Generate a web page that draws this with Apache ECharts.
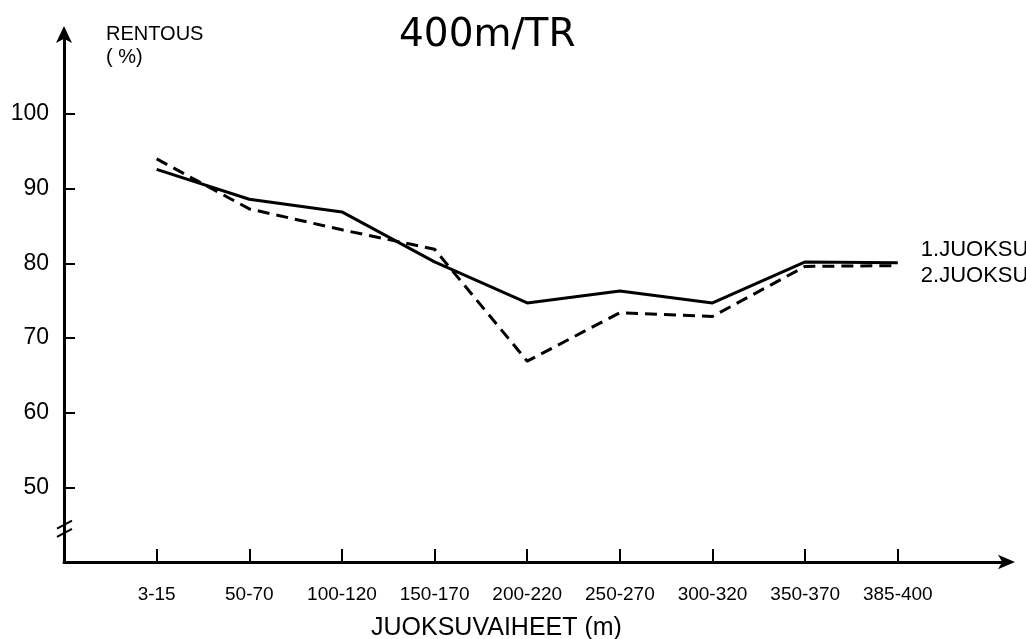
<!DOCTYPE html>
<html>
<head>
<meta charset="utf-8">
<script src="https://cdn.jsdelivr.net/npm/echarts@6/dist/echarts.min.js"></script>
<style>
  html, body { margin: 0; padding: 0; background: #fff; }
  #chart { width: 1026px; height: 639px; }
</style>
</head>
<body>
<div id="chart"></div>
<script>
// running phases (m)
const phases = ['3-15', '50-70', '100-120', '150-170', '200-220', '250-270', '300-320', '350-370', '385-400']
// relaxation %
const run1 = [92.6, 88.6, 86.9, 80.2, 74.7, 76.3, 74.7, 80.2, 80.1]
const run2 = [94.0, 87.3, 84.5, 81.9, 66.9, 73.4, 72.9, 79.6, 79.7]
const yTicks = [50, 60, 70, 80, 90, 100]
const seriesNames = ['1.JUOKSU', '2.JUOKSU']

const chart = echarts.init(document.getElementById('chart'), null, { renderer: 'canvas' })

const toPoints = arr => arr.map((v, i) => [i, v])

chart.setOption({
  animation: false,
  backgroundColor: '#fff',
  title: [
    {
      text: '400m/TR',
      left: 394, top: 11,
      textStyle: { fontFamily: 'DejaVu Sans', fontSize: 39, fontWeight: 'normal', color: '#000' },
    },
    {
      text: 'RENTOUS\n( %)',
      left: 101, top: 18,
      textStyle: { fontFamily: 'Liberation Sans', fontSize: 20, fontWeight: 'normal', color: '#000', lineHeight: 23 },
    },
    {
      text: 'JUOKSUVAIHEET (m)',
      left: 366, top: 611,
      textStyle: { fontFamily: 'Liberation Sans', fontSize: 25, fontWeight: 'normal', color: '#000' },
    },
  ],
  grid: { left: 64, right: 17, top: 32, bottom: 77 },
  xAxis: {
    type: 'value',
    min: -1,
    max: 9.2,
    splitLine: { show: false },
    axisLine: {
      onZero: false,
      lineStyle: { color: '#000', width: 3 },
      symbol: ['none', 'arrow'],
      symbolSize: [11, 17],
      symbolOffset: [0, 6],
    },
    axisTick: {
      inside: true, length: 13,
      customValues: phases.map((_, i) => i),
      lineStyle: { color: '#000', width: 2 },
    },
    axisLabel: {
      customValues: phases.map((_, i) => i),
      formatter: v => phases[v] || '',
      margin: 23,
      fontFamily: 'Liberation Sans', fontSize: 19, color: '#000',
    },
  },
  yAxis: {
    type: 'value',
    min: 40,
    max: 111,
    splitLine: { show: false },
    axisLine: {
      onZero: false,
      lineStyle: { color: '#000', width: 3 },
      symbol: ['none', 'arrow'],
      symbolSize: [12, 17],
      symbolOffset: [0, 6],
    },
    axisTick: {
      inside: true, length: 11,
      customValues: yTicks,
      lineStyle: { color: '#000', width: 2 },
    },
    axisLabel: {
      customValues: yTicks,
      margin: 15,
      fontFamily: 'Liberation Sans', fontSize: 23, color: '#000',
    },
  },
  series: [
    {
      name: seriesNames[0],
      type: 'line',
      data: toPoints(run1),
      symbol: 'none',
      lineStyle: { color: '#000', width: 3 },
      endLabel: {
        show: true, formatter: seriesNames[0], offset: [15, -13],
        fontFamily: 'Liberation Sans', fontSize: 22, color: '#000',
      },
    },
    {
      name: seriesNames[1],
      type: 'line',
      data: toPoints(run2),
      symbol: 'none',
      lineStyle: { color: '#000', width: 3, type: [12, 7] },
      endLabel: {
        show: true, formatter: seriesNames[1], offset: [15, 10],
        fontFamily: 'Liberation Sans', fontSize: 22, color: '#000',
      },
    },
  ],
})

// axis break mark on the y axis
const b1 = chart.convertToPixel({ gridIndex: 0 }, [-1, 45.0])
const b2 = chart.convertToPixel({ gridIndex: 0 }, [-1, 43.9])
chart.setOption({
  graphic: [b1, b2].map(p => ({
    type: 'line',
    shape: { x1: p[0] - 7, y1: p[1] + 4, x2: p[0] + 8, y2: p[1] - 4 },
    style: { stroke: '#000', lineWidth: 2 },
  })),
})
</script>
</body>
</html>
